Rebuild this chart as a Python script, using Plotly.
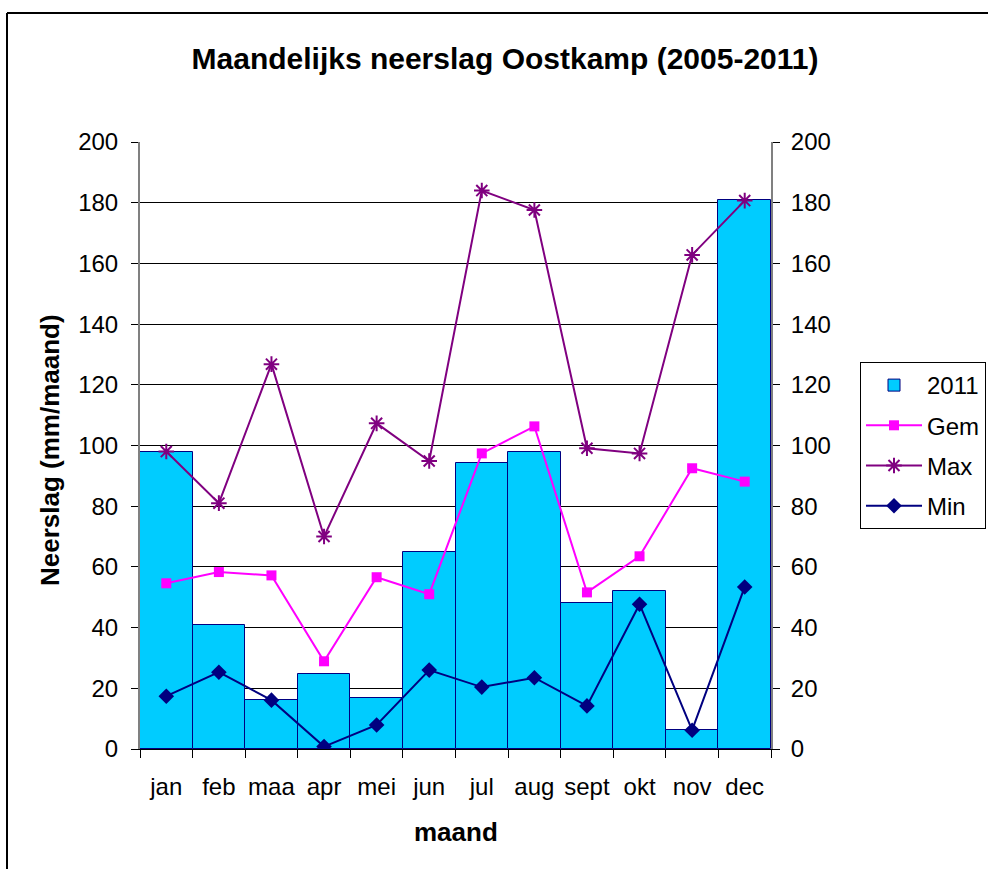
import plotly.graph_objects as go

months = ["jan", "feb", "maa", "apr", "mei", "jun", "jul", "aug", "sept", "okt", "nov", "dec"]
rain_2011 = [97.8, 40.8, 16.0, 24.6, 16.7, 64.9, 94.1, 97.8, 48.2, 52.0, 6.2, 180.8]
gem = [54.6, 58.3, 57.2, 28.9, 56.6, 51.0, 97.4, 106.3, 51.6, 63.5, 92.5, 88.1]
maxv = [98.0, 81.0, 126.8, 70.0, 107.3, 94.9, 184.0, 177.6, 99.1, 97.4, 162.8, 180.7]
minv = [17.4, 25.3, 16.1, 0.8, 7.9, 26.0, 20.4, 23.5, 14.2, 47.7, 6.2, 53.4]
y_ticks = [0, 20, 40, 60, 80, 100, 120, 140, 160, 180, 200]

FONT = "Liberation Sans, Arial, sans-serif"
OFF = 0  # page body margin (removed via post_script)
W, H = 988, 869

# plot area in page pixels
PL, PR, PT, PB = 140, 771, 142, 749
PW, PH = PR - PL, PB - PT


def px(x):
    return (x - PL) / PW


def py(y):
    return (PB - y) / PH


fig = go.Figure()
fig.add_trace(go.Bar(x=months, y=rain_2011, name="2011", legendgroup="a",
                     marker=dict(color="#00CCFF", line=dict(color="#000080", width=1))))
fig.add_trace(go.Scatter(x=months, y=gem, name="Gem", mode="lines+markers", legendgroup="b",
                         line=dict(color="#FF00FF", width=2),
                         marker=dict(symbol="square", size=10, color="#FF00FF")))
fig.add_trace(go.Scatter(x=months, y=maxv, name="Max", mode="lines+markers", legendgroup="c",
                         line=dict(color="#800080", width=2),
                         marker=dict(symbol="asterisk-open", size=13, color="#800080",
                                     line=dict(color="#800080", width=2))))
fig.add_trace(go.Scatter(x=months, y=minv, name="Min", mode="lines+markers", legendgroup="d",
                         line=dict(color="#000080", width=2),
                         marker=dict(symbol="diamond", size=12, color="#000080")))
# invisible trace for right axis
fig.add_trace(go.Scatter(x=months, y=rain_2011, yaxis="y2", mode="markers",
                         marker=dict(opacity=0), showlegend=False, hoverinfo="skip"))

axis_common = dict(range=[0, 200], tickvals=y_ticks, ticks="outside", ticklen=7,
                   tickcolor="black", tickfont=dict(size=24, color="black", family=FONT),
                   showline=True, linecolor="#808080", linewidth=2, zeroline=False)

fig.update_layout(
    width=W, height=H,
    margin=dict(l=PL - OFF, r=W - (PR - OFF), t=PT - OFF, b=H - (PB - OFF)),
    paper_bgcolor="white", plot_bgcolor="white",
    bargap=0,
    font=dict(family=FONT, color="black"),
    title=dict(text="<b>Maandelijks neerslag Oostkamp (2005-2011)</b>",
               x=(505 - OFF) / W, xanchor="center", y=1 - (58 - OFF) / H, yanchor="middle",
               font=dict(size=30, family=FONT, color="black")),
    xaxis=dict(type="category", ticks="outside", tickson="boundaries", ticklen=8,
               tickcolor="black", showline=True, linecolor="black", linewidth=1,
               tickfont=dict(size=24, color="black", family=FONT), showgrid=False,
               range=[-0.5, 11.5], ticklabelstandoff=16, tickangle=0),
    yaxis=dict(**axis_common, showgrid=True, gridcolor="black", gridwidth=1,
               ticklabelstandoff=8),
    yaxis2=dict(**axis_common, overlaying="y", side="right", showgrid=False,
                ticklabelstandoff=6),
    legend=dict(xref="container", yref="container",
                x=(860 - OFF) / W, y=1 - (362 - OFF) / H, xanchor="left", yanchor="top",
                bordercolor="black", borderwidth=1, bgcolor="white",
                font=dict(size=24, family=FONT, color="black"),
                tracegroupgap=6, traceorder="grouped", itemwidth=56),
    showlegend=True,
)

fig.add_annotation(text="<b>Neerslag (mm/maand)</b>", xref="paper", yref="paper",
                   x=px(50), y=py(450), textangle=-90,
                   showarrow=False, font=dict(size=26, family=FONT, color="black"),
                   xanchor="center", yanchor="middle")
fig.add_annotation(text="<b>maand</b>", xref="paper", yref="paper",
                   x=px(456), y=py(832),
                   showarrow=False, font=dict(size=26, family=FONT, color="black"),
                   xanchor="center", yanchor="middle")

# outer chart frame
fig.add_shape(type="line", xref="paper", yref="paper",
              x0=px(7), x1=px(1010), y0=py(13), y1=py(13),
              line=dict(color="black", width=2))
fig.add_shape(type="line", xref="paper", yref="paper",
              x0=px(7), x1=px(7), y0=py(13), y1=py(890),
              line=dict(color="black", width=2))

fig.write_html("out.html", config={"displayModeBar": False},
               post_script="document.body.style.margin='0';document.body.style.overflow='hidden';")
